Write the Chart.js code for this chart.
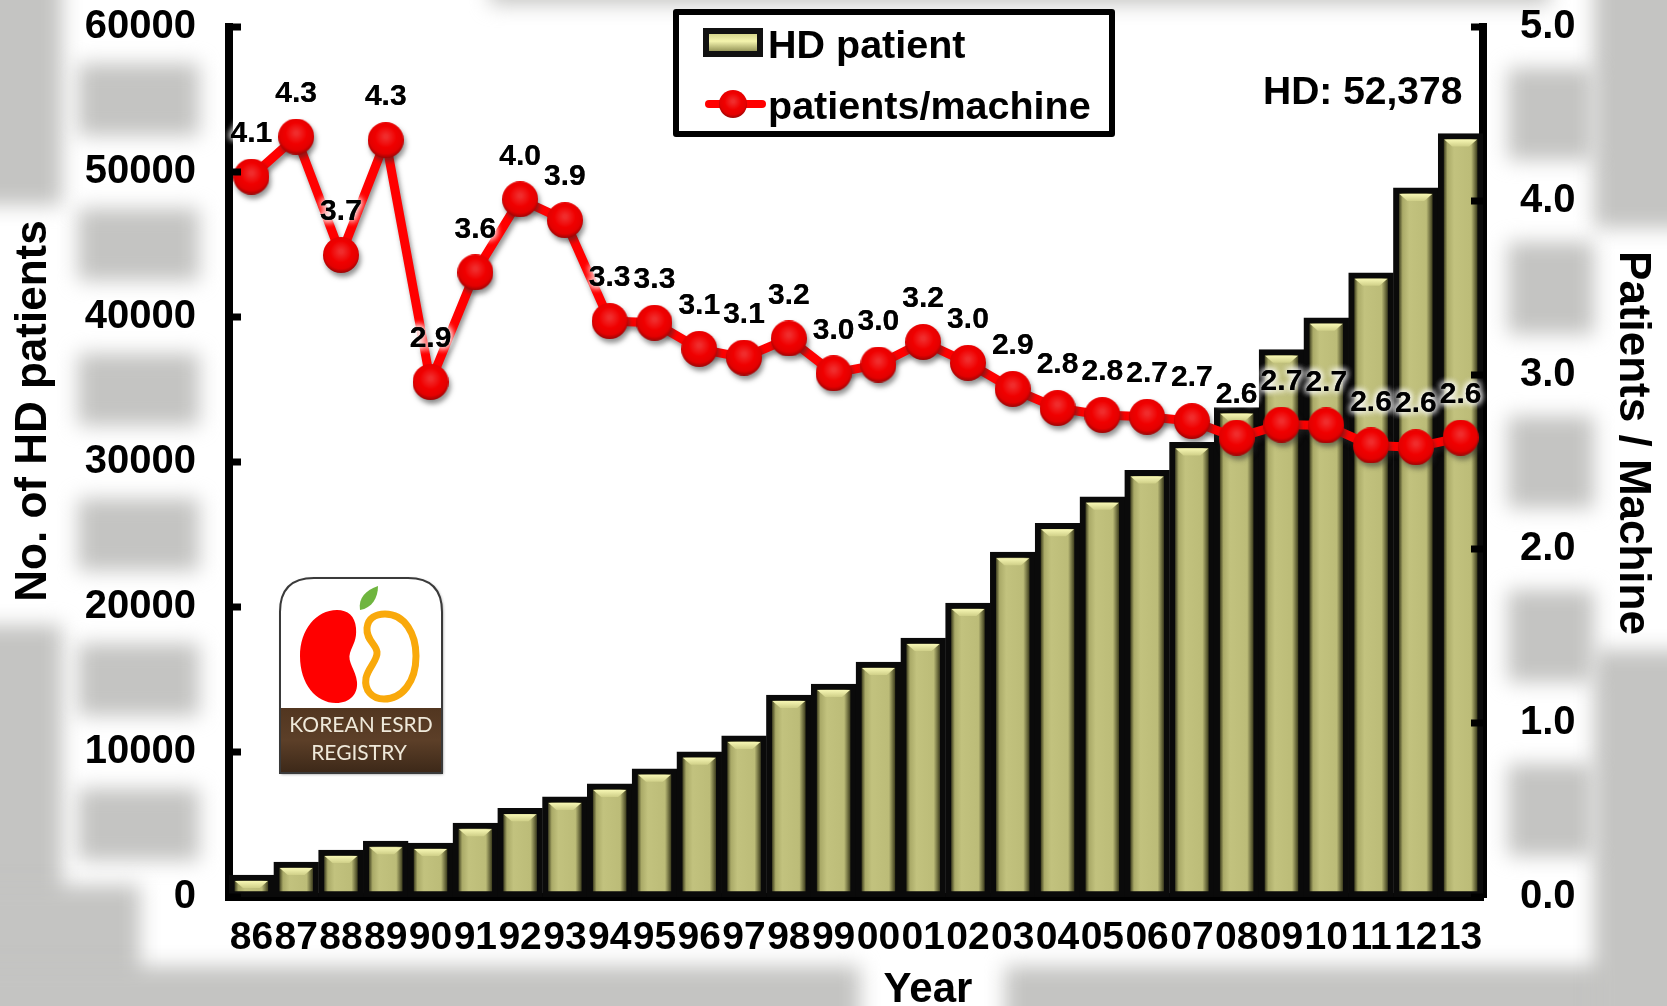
<!DOCTYPE html>
<html>
<head>
<meta charset="utf-8">
<style>
  html, body { margin: 0; padding: 0; background: #fff; overflow: hidden; }
  canvas { display: block; }
</style>
<script src="https://cdn.jsdelivr.net/npm/chart.js@4"></script>
</head>
<body>
<canvas id="graph" width="1667" height="1006"></canvas>
<script>
var years = ["86","87","88","89","90","91","92","93","94","95","96","97","98","99","00","01","02","03","04","05","06","07","08","09","10","11","12","13"];
var hdPatients = [1510,2410,3240,3850,3720,5090,6120,6900,7800,8840,10010,11110,13930,14690,16200,17860,20270,23780,25770,27600,29420,31350,33750,37750,39950,43050,48900,52650];
var patientsPerMachine = [4.14,4.37,3.69,4.35,2.96,3.59,4.01,3.89,3.31,3.30,3.15,3.10,3.21,3.01,3.06,3.19,3.07,2.92,2.81,2.77,2.76,2.735,2.64,2.715,2.71,2.595,2.585,2.64];
var ratioLabels = ["4.1","4.3","3.7","4.3","2.9","3.6","4.0","3.9","3.3","3.3","3.1","3.1","3.2","3.0","3.0","3.2","3.0","2.9","2.8","2.8","2.7","2.7","2.6","2.7","2.7","2.6","2.6","2.6"];
var FONT = '"Liberation Sans", Arial, sans-serif';

function makeBall(r) {
  var c = document.createElement("canvas");
  c.width = r * 2;
  c.height = r * 2;
  var g = c.getContext("2d");
  var grad = g.createRadialGradient(r, r * 0.8, r * 0.1, r, r * 0.85, r * 1.2);
  grad.addColorStop(0, "#f02c2c");
  grad.addColorStop(0.45, "#f00000");
  grad.addColorStop(0.75, "#e40000");
  grad.addColorStop(1, "#8c0606");
  g.fillStyle = grad;
  g.beginPath();
  g.arc(r, r, r, 0, Math.PI * 2);
  g.fill();
  return c;
}

function barFill(context) {
  var chart = context.chart;
  if (!chart.chartArea || context.dataIndex === undefined) return "#bdbd78";
  var w = chart.scales.x.width / years.length;
  var cx = chart.scales.x.getPixelForValue(context.dataIndex);
  var g = chart.ctx.createLinearGradient(cx - w / 2 + 6, 0, cx + w / 2 - 6, 0);
  g.addColorStop(0, "#4a4a26");
  g.addColorStop(0.1, "#aaaa68");
  g.addColorStop(0.3, "#c2c27e");
  g.addColorStop(0.82, "#bcbc78");
  g.addColorStop(1, "#454522");
  return g;
}

// grey background with the white glow left round the texts
var backdrop = {
  id: "backdrop",
  beforeDraw: function (chart) {
    var ctx = chart.ctx;
    var left = chart.scales.y;
    var right = chart.scales.y1;
    ctx.save();
    ctx.fillStyle = "#fff";
    ctx.fillRect(0, 0, 1667, 1006);
    ctx.filter = "blur(10px)";
    ctx.fillStyle = "#c4c4c2";
    ctx.fillRect(-30, -30, 92, 235);
    ctx.fillRect(-30, 625, 92, 430);
    ctx.fillRect(-30, 885, 170, 150);
    ctx.fillRect(-30, 966, 890, 80);
    ctx.fillRect(1005, 966, 700, 80);
    ctx.fillRect(490, -30, 1060, 34);
    ctx.fillRect(1594, -30, 100, 258);
    ctx.fillRect(1594, 650, 100, 400);
    var i, a, b;
    for (i = 0; i < left.ticks.length - 1; i++) {
      a = left.getPixelForTick(i);
      b = left.getPixelForTick(i + 1);
      ctx.fillRect(78, (a + b) / 2 - 36, 121, 72);
    }
    for (i = 0; i < right.ticks.length - 1; i++) {
      a = right.getPixelForTick(i);
      b = right.getPixelForTick(i + 1);
      ctx.fillRect(1508, (a + b) / 2 - 46, 86, 92);
    }
    ctx.restore();
  }
};

var barBevel = {
  id: "barBevel",
  afterDatasetDraw: function (chart, args) {
    if (args.index !== 0) return;
    var ctx = chart.ctx;
    ctx.save();
    args.meta.data.forEach(function (bar) {
      var half = bar.width / 2 - 6;
      var top = bar.y + 6;
      var g = ctx.createLinearGradient(0, top, 0, top + 7);
      g.addColorStop(0, "#f7f7b4");
      g.addColorStop(1, "#cfcf88");
      ctx.fillStyle = g;
      ctx.beginPath();
      ctx.moveTo(bar.x - half, top);
      ctx.lineTo(bar.x + half, top);
      ctx.lineTo(bar.x + half - 8, top + 7);
      ctx.lineTo(bar.x - half + 8, top + 7);
      ctx.closePath();
      ctx.fill();
    });
    ctx.restore();
  }
};

var lineShadow = {
  id: "lineShadow",
  beforeDatasetDraw: function (chart, args) {
    if (args.index !== 1) return;
    var ctx = chart.ctx;
    ctx.save();
    ctx.shadowColor = "rgba(40,40,40,0.5)";
    ctx.shadowBlur = 5;
    ctx.shadowOffsetX = 2;
    ctx.shadowOffsetY = 4;
  },
  afterDatasetDraw: function (chart, args) {
    if (args.index !== 1) return;
    chart.ctx.restore();
  }
};

function drawLogo(ctx) {
  ctx.save();
  ctx.shadowColor = "rgba(0,0,0,0.5)";
  ctx.shadowBlur = 3;
  ctx.shadowOffsetX = 1;
  ctx.shadowOffsetY = 1;
  ctx.beginPath();
  ctx.moveTo(280, 773);
  ctx.lineTo(280, 612);
  ctx.quadraticCurveTo(280, 578, 314, 578);
  ctx.lineTo(408, 578);
  ctx.quadraticCurveTo(442, 578, 442, 612);
  ctx.lineTo(442, 773);
  ctx.closePath();
  ctx.fillStyle = "#fff";
  ctx.fill();
  ctx.shadowColor = "transparent";
  ctx.lineWidth = 2;
  ctx.strokeStyle = "#3a3a3a";
  ctx.stroke();

  var soil = ctx.createLinearGradient(0, 708, 0, 773);
  soil.addColorStop(0, "#523620");
  soil.addColorStop(0.5, "#5c3f28");
  soil.addColorStop(1, "#3c2818");
  ctx.fillStyle = soil;
  ctx.fillRect(281, 708, 160, 64);

  // red kidney
  ctx.fillStyle = "#ff0000";
  ctx.beginPath();
  ctx.moveTo(337, 610);
  ctx.bezierCurveTo(316, 610, 300, 630, 300, 656);
  ctx.bezierCurveTo(300, 684, 316, 703, 336, 703);
  ctx.bezierCurveTo(350, 703, 358, 694, 357, 682);
  ctx.bezierCurveTo(356, 670, 347, 662, 350, 653);
  ctx.bezierCurveTo(353, 644, 357, 640, 356, 628);
  ctx.bezierCurveTo(355, 616, 348, 610, 337, 610);
  ctx.fill();

  // orange kidney, outline only
  ctx.strokeStyle = "#f9a90b";
  ctx.lineWidth = 7;
  ctx.beginPath();
  ctx.moveTo(385, 614);
  ctx.bezierCurveTo(405, 614, 416, 634, 416, 656);
  ctx.bezierCurveTo(416, 682, 402, 699, 384, 699);
  ctx.bezierCurveTo(372, 699, 364, 690, 366, 678);
  ctx.bezierCurveTo(368, 668, 378, 660, 377, 652);
  ctx.bezierCurveTo(376, 644, 366, 640, 367, 628);
  ctx.bezierCurveTo(368, 618, 376, 614, 385, 614);
  ctx.closePath();
  ctx.stroke();

  // leaf
  ctx.fillStyle = "#6fb53f";
  ctx.beginPath();
  ctx.moveTo(360, 610);
  ctx.bezierCurveTo(358, 598, 366, 590, 378, 586);
  ctx.bezierCurveTo(378, 598, 372, 608, 360, 610);
  ctx.fill();

  ctx.fillStyle = "#efe9da";
  ctx.font = '21px "Lato", sans-serif';
  ctx.textAlign = "center";
  ctx.textBaseline = "alphabetic";
  ctx.fillText("KOREAN ESRD", 361, 732);
  ctx.fillText("REGISTRY", 359, 760);
  ctx.restore();
}

function drawLegend(ctx, ball, labels) {
  ctx.save();
  ctx.fillStyle = "#fff";
  ctx.fillRect(676, 12, 436, 122);
  ctx.strokeStyle = "#000";
  ctx.lineWidth = 6;
  ctx.lineJoin = "round";
  ctx.strokeRect(676, 12, 436, 122);

  ctx.fillStyle = "#111";
  ctx.fillRect(703, 28, 60, 29);
  var g = ctx.createLinearGradient(0, 34, 0, 52);
  g.addColorStop(0, "#d6d68c");
  g.addColorStop(0.4, "#f4f4ae");
  g.addColorStop(1, "#8e8e52");
  ctx.fillStyle = g;
  ctx.fillRect(709, 34, 48, 17);

  ctx.strokeStyle = "#ff0000";
  ctx.lineWidth = 8;
  ctx.lineCap = "round";
  ctx.beginPath();
  ctx.moveTo(709, 104);
  ctx.lineTo(762, 104);
  ctx.stroke();
  ctx.drawImage(ball, 733 - ball.width / 2, 104 - ball.height / 2);

  ctx.fillStyle = "#000";
  ctx.font = "bold 39.5px " + FONT;
  ctx.textAlign = "left";
  ctx.textBaseline = "alphabetic";
  ctx.fillText(labels[0], 768, 58);
  ctx.fillText(labels[1], 768, 119);
  ctx.restore();
}

var legendBall = makeBall(14);

// value labels, legend, logo, axis titles and the inward tick marks
var overlay = {
  id: "overlay",
  afterDatasetsDraw: function (chart) {
    var ctx = chart.ctx;
    var meta = chart.getDatasetMeta(1);

    ctx.save();
    ctx.font = "bold 30px " + FONT;
    ctx.textAlign = "center";
    ctx.textBaseline = "middle";
    meta.data.forEach(function (pt, i) {
      ctx.shadowColor = "#fff";
      ctx.shadowBlur = 7;
      ctx.fillStyle = "#000";
      ctx.fillText(ratioLabels[i], pt.x, pt.y - 43);
      ctx.fillText(ratioLabels[i], pt.x, pt.y - 43);
      ctx.fillText(ratioLabels[i], pt.x, pt.y - 43);
    });
    ctx.restore();

    ctx.save();
    ctx.fillStyle = "#000";
    chart.scales.y.ticks.forEach(function (t, i) {
      ctx.fillRect(chart.chartArea.left, chart.scales.y.getPixelForTick(i) - 3.5, 12, 7);
    });
    chart.scales.y1.ticks.forEach(function (t, i) {
      ctx.fillRect(chart.chartArea.right - 12, chart.scales.y1.getPixelForTick(i) - 3.5, 12, 7);
    });

    ctx.font = "bold 39px " + FONT;
    ctx.textAlign = "left";
    ctx.textBaseline = "alphabetic";
    ctx.fillText("HD: 52,378", 1263, 104);

    ctx.font = "bold 42px " + FONT;
    ctx.textAlign = "center";
    ctx.fillText("Year", 928, 1002);

    ctx.font = "bold 44px " + FONT;
    ctx.translate(46, 411);
    ctx.rotate(-Math.PI / 2);
    ctx.fillText("No. of HD patients", 0, 0);
    ctx.restore();

    ctx.save();
    ctx.fillStyle = "#000";
    ctx.font = "bold 44px " + FONT;
    ctx.textAlign = "center";
    ctx.textBaseline = "alphabetic";
    ctx.translate(1620, 443);
    ctx.rotate(Math.PI / 2);
    ctx.fillText("Patients / Machine", 0, 0);
    ctx.restore();

    drawLogo(ctx);
    drawLegend(ctx, legendBall, [chart.data.datasets[0].label, chart.data.datasets[1].label]);
  }
};

function fitY(width) {
  return function (scale) {
    scale.width = width;
    scale.paddingTop = 0;
    scale.paddingBottom = 0;
  };
}

var ctx = document.getElementById("graph").getContext("2d");
var chart = new Chart(ctx, {
  data: {
    labels: years,
    datasets: [
      {
        type: "bar",
        label: "HD patient",
        data: hdPatients,
        yAxisID: "y",
        order: 2,
        backgroundColor: barFill,
        borderColor: "#0a0a0a",
        borderWidth: 6,
        borderSkipped: false,
        barPercentage: 1,
        categoryPercentage: 1
      },
      {
        type: "line",
        label: "patients/machine",
        data: patientsPerMachine,
        yAxisID: "y1",
        order: 1,
        borderColor: "#ff0000",
        borderWidth: 9,
        tension: 0,
        pointStyle: makeBall(18),
        pointRadius: 18,
        pointHoverRadius: 18
      }
    ]
  },
  plugins: [backdrop, barBevel, lineShadow, overlay],
  options: {
    responsive: false,
    animation: false,
    layout: { padding: { top: 25, left: 0, right: 0, bottom: 0 } },
    plugins: {
      legend: { display: false },
      tooltip: { enabled: false }
    },
    scales: {
      x: {
        offset: true,
        grid: { display: false, drawTicks: false },
        border: { display: true, color: "#000", width: 8 },
        ticks: {
          autoSkip: false,
          maxRotation: 0,
          minRotation: 0,
          padding: 18,
          color: "#000",
          font: { family: FONT, weight: "bold", size: 39 }
        },
        afterFit: function (scale) {
          scale.height = 109;
          scale.paddingLeft = 0;
          scale.paddingRight = 0;
        }
      },
      y: {
        position: "left",
        min: 0,
        max: 60000,
        grid: { display: false, drawTicks: false },
        border: { display: true, color: "#000", width: 8 },
        ticks: {
          stepSize: 10000,
          padding: 33,
          color: "#000",
          font: { family: FONT, weight: "bold", size: 40 },
          callback: function (v) { return String(v); }
        },
        afterFit: fitY(229)
      },
      y1: {
        position: "right",
        min: 0,
        max: 5,
        grid: { display: false, drawTicks: false },
        border: { display: true, color: "#000", width: 8 },
        ticks: {
          stepSize: 1,
          padding: 37,
          color: "#000",
          font: { family: FONT, weight: "bold", size: 40 },
          callback: function (v) { return v.toFixed(1); }
        },
        afterFit: fitY(184)
      }
    }
  }
});
</script>
</body>
</html>
